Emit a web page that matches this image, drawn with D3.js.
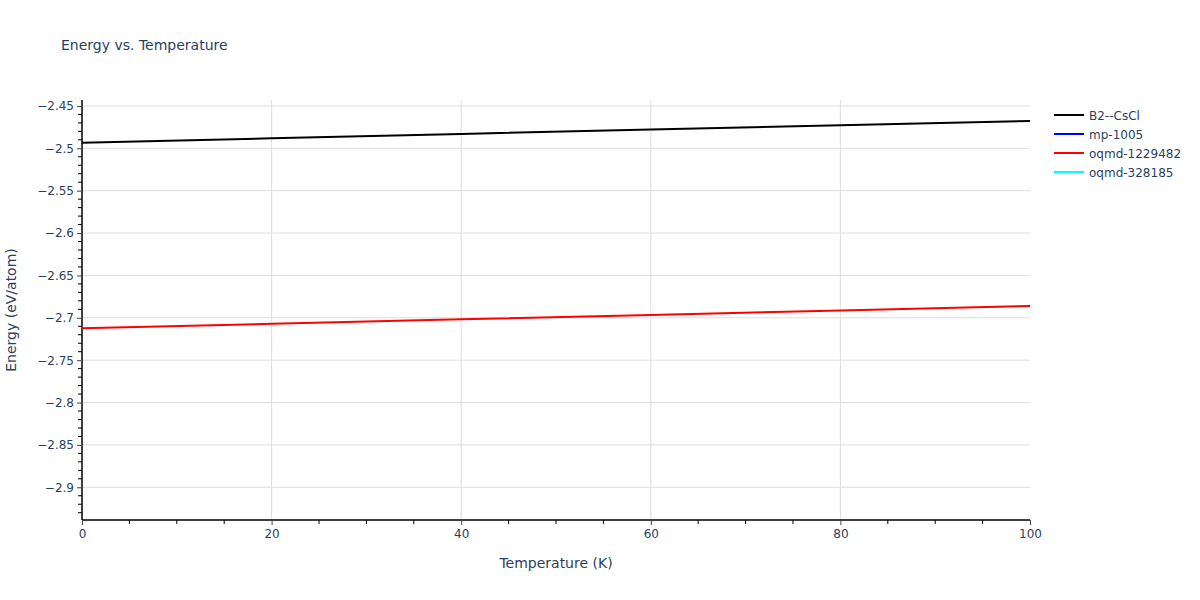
<!DOCTYPE html>
<html>
<head>
<meta charset="utf-8">
<script src="https://cdn.jsdelivr.net/npm/d3@7"></script>
<style>
  html, body { margin: 0; padding: 0; background: #fff; }
  svg { display: block; font-family: "DejaVu Sans", Verdana, sans-serif; }
</style>
</head>
<body>
<svg id="chart" width="1200" height="600"></svg>
<script>
// ---- data ----
const temperatures = [0, 20, 40, 60, 80, 100];
const seriesNames = ["B2--CsCl", "mp-1005", "oqmd-1229482", "oqmd-328185"];
const seriesColors = ["#000000", "#0000ff", "#ff0000", "#00ffff"];
const b2CsCl = [-2.4935, -2.4882, -2.4830, -2.4778, -2.4728, -2.4678];
const mp1005 = [];
const oqmd1229482 = [-2.7122, -2.7071, -2.7018, -2.6968, -2.6913, -2.6860];
const oqmd328185 = [];
const xTicks = [0, 20, 40, 60, 80, 100];
const yTicks = [-2.9, -2.85, -2.8, -2.75, -2.7, -2.65, -2.6, -2.55, -2.5, -2.45];

const seriesValues = [b2CsCl, mp1005, oqmd1229482, oqmd328185];

// ---- layout ----
const svg = d3.select("#chart");
const margin = { left: 82, right: 1030, top: 100, bottom: 520 };
const textColor = "#2a3f5f";

const x = d3.scaleLinear().domain([0, 100]).range([margin.left, margin.right]);
const y = d3.scaleLinear().domain([-2.9386, -2.443]).range([margin.bottom, margin.top]);

// grid
const grid = svg.append("g");
grid.selectAll(".gx").data(xTicks.filter(d => d > 0 && d < 100)).enter().append("line")
  .attr("x1", d => x(d)).attr("x2", d => x(d))
  .attr("y1", margin.top).attr("y2", margin.bottom)
  .attr("stroke", "#dedede").attr("stroke-width", 1);
grid.selectAll(".gy").data(yTicks).enter().append("line")
  .attr("x1", margin.left).attr("x2", margin.right)
  .attr("y1", d => y(d)).attr("y2", d => y(d))
  .attr("stroke", "#dedede").attr("stroke-width", 1);

// minor ticks
const xMinor = d3.range(0, 100.001, 5).filter(v => v % 20 !== 0);
const yMinor = d3.range(-2.93, -2.4435, 0.01).filter(v => Math.abs(Math.round(v * 20) - v * 20) > 1e-6);

const xAxis = d3.axisBottom(x).tickValues(xTicks).tickSize(5).tickPadding(4).tickFormat(d3.format("d"));
const yAxis = d3.axisLeft(y).tickValues(yTicks).tickSize(5).tickPadding(3)
  .tickFormat(d => d3.format("")(d).replace("-", "\u2212"));

const gx = svg.append("g").attr("transform", `translate(0,${margin.bottom})`).call(xAxis);
gx.selectAll(".tick").append("line").remove();
gx.append("g").selectAll("line").data(xMinor).enter().append("line")
  .attr("x1", d => x(d)).attr("x2", d => x(d)).attr("y1", 0).attr("y2", 4)
  .attr("stroke", "#000");

const gy = svg.append("g").attr("transform", `translate(${margin.left},0)`).call(yAxis);
gy.append("g").selectAll("line").data(yMinor).enter().append("line")
  .attr("y1", d => y(d)).attr("y2", d => y(d)).attr("x1", 0).attr("x2", -4)
  .attr("stroke", "#000");

[gx, gy].forEach(g => {
  g.select(".domain").attr("stroke", "#000").attr("stroke-width", 1.5);
  g.selectAll(".tick line").attr("stroke", "#444");
  g.selectAll(".tick text").attr("fill", textColor).attr("font-size", 12)
    .attr("font-family", "\"DejaVu Sans\", Verdana, sans-serif");
});
gy.select(".domain").attr("d", `M0,${margin.top}V${margin.bottom}`);
gx.select(".domain").attr("d", `M${margin.left},0H${margin.right}`);

// lines
const line = d3.line().x((d, i) => x(temperatures[i])).y(d => y(d));
seriesValues.forEach((vals, i) => {
  if (!vals.length) return;
  svg.append("path").datum(vals)
    .attr("d", line).attr("fill", "none")
    .attr("stroke", seriesColors[i]).attr("stroke-width", 2);
});

// title
svg.append("text").attr("x", 61).attr("y", 50).text("Energy vs. Temperature")
  .attr("fill", textColor).attr("font-size", 14);

// axis titles
svg.append("text").attr("x", (margin.left + margin.right) / 2).attr("y", 568)
  .attr("text-anchor", "middle").attr("fill", textColor).attr("font-size", 14)
  .text("Temperature (K)");
svg.append("text").attr("transform", `translate(16,${(margin.top + margin.bottom) / 2}) rotate(-90)`)
  .attr("text-anchor", "middle").attr("fill", textColor).attr("font-size", 14)
  .text("Energy (eV/atom)");

// legend
const legend = svg.append("g").attr("transform", "translate(1054,115)");
seriesNames.forEach((name, i) => {
  const g = legend.append("g").attr("transform", `translate(0,${i * 19})`);
  g.append("line").attr("x1", 0).attr("x2", 30).attr("y1", 0).attr("y2", 0)
    .attr("stroke", seriesColors[i]).attr("stroke-width", 2);
  g.append("text").attr("x", 35).attr("y", 4.5).text(name)
    .attr("fill", textColor).attr("font-size", 12);
});
</script>
</body>
</html>
